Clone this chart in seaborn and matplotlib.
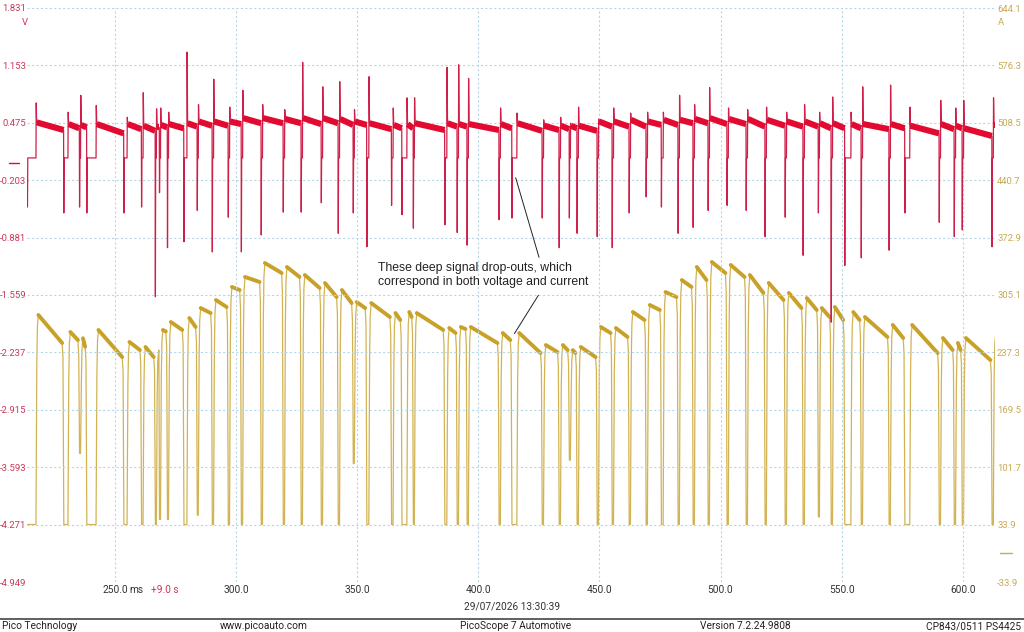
import matplotlib
matplotlib.use("Agg")
import matplotlib.pyplot as plt
import matplotlib.transforms as mtransforms
from matplotlib.lines import Line2D
import seaborn as sns

# time in ms after the +9.0 s offset
trace_start = 213.9
trace_end = 614.0

# current drop-outs: start / end of the bottom of each dip (ms) and its floor (A)
dip_start = [213.9, 228.9, 235.4, 238.4, 253.7, 261.0, 266.7, 268.4, 271.7, 278.5,
             284.0, 290.2, 296.8, 302.2, 310.4, 319.5, 326.9, 335.2, 342.2, 348.4,
             354.0, 364.2, 368.5, 373.2, 386.2, 391.3, 395.4, 408.6, 413.9, 426.4,
             433.4, 437.6, 440.8, 449.1, 455.3, 462.3, 469.3, 475.6, 482.5, 488.7,
             494.9, 502.7, 510.6, 518.4, 526.7, 534.1, 540.4, 545.7, 551.3, 558.1,
             569.6, 576.1, 590.3, 596.5, 599.8, 612.1]
dip_end = [217.4, 230.6, 235.8, 242.2, 255.0, 261.6, 267.1, 268.8, 272.1, 279.7,
           284.4, 290.7, 297.3, 302.7, 310.9, 320.0, 327.4, 335.7, 342.7, 348.8,
           354.8, 364.8, 370.5, 373.6, 387.0, 391.8, 395.9, 409.1, 415.9, 426.9,
           433.9, 438.0, 441.3, 449.6, 455.8, 462.8, 469.8, 476.3, 483.0, 489.2,
           495.4, 503.2, 511.1, 518.9, 527.2, 534.6, 540.8, 546.2, 553.8, 558.6,
           570.1, 578.1, 590.8, 597.0, 600.3, 612.6]
dip_floor = [34, 34, 118, 34, 34, 34, 34, 40, 40, 34,
             45, 34, 34, 34, 34, 34, 34, 34, 34, 106,
             34, 34, 34, 34, 34, 34, 34, 34, 34, 34,
             34, 110, 34, 34, 34, 34, 34, 34, 34, 34,
             34, 34, 34, 34, 34, 34, 43, 34, 34, 34,
             34, 34, 34, 34, 34, 34]

# current level (A) at the start and end of the plateau after each dip
amp_top = [281.5, 261.4, 254.0, 263.8, 249.6, 243.7, 240.0, 263.8, 273.2, 277.9,
           289.7, 299.2, 314.6, 326.4, 342.9, 338.2, 328.7, 319.3, 311.0, 296.8,
           295.6, 283.8, 285.0, 283.8, 266.1, 267.3, 267.3, 260.2, 260.2, 246.0,
           246.0, 240.0, 243.7, 267.3, 266.1, 285.0, 293.3, 308.6, 322.8, 338.2,
           344.1, 340.6, 328.7, 319.3, 307.5, 301.5, 289.7, 290.9, 285.0, 279.1,
           269.7, 269.7, 254.3, 248.4, 254.3, 260.0]
amp_end = [248.4, 251.9, 244.0, 231.8, 240.1, 231.8, 240.0, 262.0, 263.8, 267.3,
           283.8, 290.9, 311.0, 320.5, 331.1, 326.4, 313.4, 302.7, 295.6, 289.7,
           279.1, 275.6, 279.1, 263.8, 260.2, 265.0, 248.4, 251.9, 236.6, 237.7,
           240.0, 236.6, 231.8, 260.2, 255.5, 275.6, 287.4, 302.7, 314.6, 322.8,
           331.1, 326.4, 307.5, 299.2, 289.7, 287.4, 279.1, 275.6, 275.6, 255.5,
           254.3, 236.6, 240.1, 240.1, 228.3, 260.0]

# voltage spikes at each drop-out (V): low at the start, high at the recovery
volt_low = [-0.52, -0.59, -0.52, -0.59, -0.59, -0.52, -1.58, -0.35, -1.00, -0.93,
            -0.56, -1.05, -0.64, -1.05, -0.85, -0.58, -0.58, -0.47, -0.83, -0.59,
            -0.99, -0.50, -0.61, -0.77, -0.73, -0.82, -0.97, -0.67, -0.65, -0.65,
            -1.00, -0.65, -0.83, -0.87, -1.00, -0.59, -0.40, -0.52, -0.83, -0.76,
            -0.56, -0.50, -0.56, -0.87, -0.64, -1.09, -0.59, -1.88, -1.21, -1.12,
            -1.03, -0.59, -0.70, -0.87, -0.79, -0.99]
volt_high = [0.71, 0.60, 0.80, 0.68, 0.54, 0.83, 0.64, 0.65, 0.60, 1.31,
             0.69, 0.99, 0.66, 0.86, 0.69, 0.63, 1.19, 0.90, 0.96, 0.63,
             1.02, 0.65, 0.77, 0.77, 1.13, 1.16, 1.00, 0.65, 0.59, 0.51,
             0.54, 0.47, 0.66, 0.52, 0.65, 0.59, 0.60, 0.60, 0.80, 0.69,
             0.89, 0.65, 0.63, 0.66, 0.60, 0.69, 0.60, 0.78, 0.60, 0.90,
             0.92, 0.66, 0.74, 0.65, 0.74, 0.77]
volt_mid = 0.06
# voltage plateau after each dip (V)
volt_top = [0.48, 0.46, 0.45, 0.46, 0.46, 0.44, 0.42, 0.45, 0.46, 0.47,
            0.49, 0.49, 0.49, 0.53, 0.53, 0.52, 0.53, 0.53, 0.52, 0.49,
            0.47, 0.45, 0.46, 0.47, 0.47, 0.46, 0.46, 0.46, 0.47, 0.44,
            0.44, 0.44, 0.44, 0.49, 0.49, 0.51, 0.49, 0.51, 0.51, 0.52,
            0.53, 0.52, 0.52, 0.51, 0.49, 0.49, 0.47, 0.47, 0.46, 0.46,
            0.46, 0.44, 0.46, 0.44, 0.41, 0.45]
volt_end = [0.39, 0.41, 0.42, 0.35, 0.40, 0.38, 0.42, 0.42, 0.41, 0.43,
            0.44, 0.44, 0.46, 0.47, 0.47, 0.47, 0.46, 0.47, 0.45, 0.45,
            0.40, 0.41, 0.41, 0.39, 0.43, 0.43, 0.39, 0.41, 0.38, 0.39,
            0.40, 0.41, 0.38, 0.43, 0.43, 0.43, 0.45, 0.45, 0.47, 0.47,
            0.46, 0.46, 0.43, 0.44, 0.43, 0.43, 0.41, 0.41, 0.41, 0.40,
            0.41, 0.35, 0.40, 0.41, 0.32, 0.45]

time_ticks = [250, 300, 350, 400, 450, 500, 550, 600]
volt_ticks = [1.831, 1.153, 0.475, -0.203, -0.881, -1.559, -2.237, -2.915, -3.593, -4.271, -4.949]
amp_ticks = [644.1, 576.3, 508.5, 440.7, 372.9, 305.1, 237.3, 169.5, 101.7, 33.9, -33.9]

RED = "#e20a30"
GOLD = "#c9a129"
RED_TXT = "#c8385a"
GOLD_TXT = "#c9a955"
GRID = "#b7d7e4"
TICK_FS = 6.8


def build_traces():
    t_a, amps, t_v, volts = [], [], [], []
    bands_a, bands_v = [], []
    n = len(dip_start)
    for i in range(n):
        ts, te = dip_start[i], dip_end[i]
        nxt = dip_start[i + 1] if i + 1 < n else trace_end + 0.45
        p0 = te + 1.0
        p1 = max(nxt - 0.7, p0 + 0.05)
        # current: down to the floor, back up onto the plateau with a rounded knee
        t_a += [ts, te, te + 0.35, te + 0.6, p0, p1, max(nxt - 0.35, p1 + 0.02)]
        amps += [dip_floor[i], dip_floor[i], 0.8 * amp_top[i], 0.95 * amp_top[i],
                 amp_top[i], amp_end[i], 0.93 * amp_end[i]]
        bands_a.append(([p0, p1], [amp_top[i], amp_end[i]]))
        # voltage: spike down, sag, spike up, settle
        q0 = te + 0.3
        q1 = max(nxt - 0.1, q0 + 0.05)
        t_v += [ts, ts + 0.12, te, te + 0.1, q0, q1]
        volts += [volt_low[i], volt_mid, volt_mid, volt_high[i], volt_top[i], volt_end[i]]
        bands_v.append(([q0, q1], [volt_top[i], volt_end[i]]))
    return t_a, amps, t_v, volts, bands_a, bands_v


def plot_scope(save_path=None):
    sns.set_theme(style="white")
    plt.rcParams["font.family"] = ["Roboto", "DejaVu Sans"]
    plt.rcParams["axes.unicode_minus"] = False

    fig = plt.figure(figsize=(10.24, 6.32), dpi=100)
    ax = fig.add_axes([27 / 1024, 50 / 632, 968 / 1024, 574 / 632])
    ax2 = ax.twinx()
    ax.set_zorder(ax2.get_zorder() + 1)
    ax.patch.set_visible(False)

    t_a, amps, t_v, volts, bands_a, bands_v = build_traces()

    sns.lineplot(x=t_a, y=amps, sort=False, estimator=None, color="#d2b354",
                 linewidth=0.9, ax=ax2)
    for xs, ys in bands_a:
        ax2.plot(xs, ys, color=GOLD, linewidth=2.8, solid_capstyle="round")

    sns.lineplot(x=t_v, y=volts, sort=False, estimator=None, color="#cf1f48",
                 linewidth=0.9, ax=ax)
    for xs, ys in bands_v:
        ax.plot(xs, ys, color=RED, linewidth=4.4, solid_capstyle="butt")

    ax.set_xlim(213.7, 613.3)
    ax.set_ylim(volt_ticks[-1], volt_ticks[0])
    ax2.set_ylim(amp_ticks[-1], amp_ticks[0])

    ax.set_xticks(time_ticks)
    ax.set_xticklabels([f"{t:.1f}" for t in time_ticks])
    ax.set_yticks(volt_ticks)
    ax.set_yticklabels([f"{v:.3f}" for v in volt_ticks])
    ax2.set_yticks(amp_ticks)
    ax2.set_yticklabels([f"{a:.1f}" for a in amp_ticks])

    ax.tick_params(axis="x", length=0, pad=2.5, labelsize=7.3, labelcolor="#333333")
    ax.tick_params(axis="y", length=0, pad=0.4, labelsize=TICK_FS, labelcolor=RED_TXT)
    ax2.tick_params(axis="y", length=0, pad=1.5, labelsize=TICK_FS, labelcolor=GOLD_TXT)
    ax.set_xlabel("")
    ax.set_ylabel("")
    ax2.set_ylabel("")

    for sp in list(ax.spines.values()) + list(ax2.spines.values()):
        sp.set_visible(False)
    ax.grid(True, color=GRID, linestyle=(0, (2, 2)), linewidth=0.8)
    ax.set_axisbelow(True)

    # zero markers for both channels
    left_tr = mtransforms.blended_transform_factory(ax.transAxes, ax.transData)
    ax.add_line(Line2D([-0.0186, -0.0083], [0, 0], color=RED, linewidth=1,
                       transform=left_tr, clip_on=False))
    right_tr = mtransforms.blended_transform_factory(ax2.transAxes, ax2.transData)
    ax2.add_line(Line2D([1.0052, 1.0176], [0, 0], color=GOLD_TXT, linewidth=1,
                        transform=right_tr, clip_on=False))

    fig.text(24.5 / 1024, 1 - 22.5 / 632, "V", color=RED_TXT, fontsize=TICK_FS,
             ha="center", va="center")
    fig.text(998 / 1024, 1 - 22.5 / 632, "A", color=GOLD_TXT, fontsize=TICK_FS,
             ha="left", va="center")

    bottom_tr = mtransforms.blended_transform_factory(ax.transData, fig.transFigure)
    ax.text(256.0, 1 - 590 / 632, "ms", transform=bottom_tr, fontsize=7.3,
            color="#333333", ha="left", va="center")
    ax.text(265.0, 1 - 590 / 632, "+9.0 s", transform=bottom_tr, fontsize=7.3,
            color=RED_TXT, ha="left", va="center")

    fig.text(0.5, 1 - 606 / 632, "29/07/2026 13:30:39", fontsize=7.3,
             color="#333333", ha="center", va="center")

    ax.annotate("", xy=(415.1, -0.142), xytext=(425.4, -1.146),
                arrowprops=dict(arrowstyle="-", color="#222222", lw=0.7))
    ax.annotate("", xy=(414.3, -2.043), xytext=(425.4, -1.535),
                arrowprops=dict(arrowstyle="-", color="#222222", lw=0.7))
    ax.text(358.6, -1.17, "These deep signal drop-outs, which\ncorrespond in both voltage and current",
            fontsize=8.8, color="#222222", ha="left", va="top", linespacing=1.2,
            family=["Liberation Sans", "DejaVu Sans"])

    # footer bar
    fig.add_artist(Line2D([0, 1], [13 / 632, 13 / 632], color="#444444", linewidth=1.2,
                          transform=fig.transFigure))
    fy = 1 - 626 / 632
    fig.text(0.002, fy, "Pico Technology", fontsize=7.3, color="#222222", ha="left", va="center")
    fig.text(264 / 1024, fy, "www.picoauto.com", fontsize=7.3, color="#222222", ha="center", va="center")
    fig.text(516 / 1024, fy, "PicoScope 7 Automotive", fontsize=7.3, color="#222222", ha="center", va="center")
    fig.text(745 / 1024, fy, "Version 7.2.24.9808", fontsize=7.3, color="#222222", ha="center", va="center")
    fig.text(1021 / 1024, fy, "CP843/0511 PS4425", fontsize=7.3, color="#222222", ha="right", va="center")

    if save_path is not None:
        fig.savefig(save_path, dpi=100)


plot_scope("out.png")
